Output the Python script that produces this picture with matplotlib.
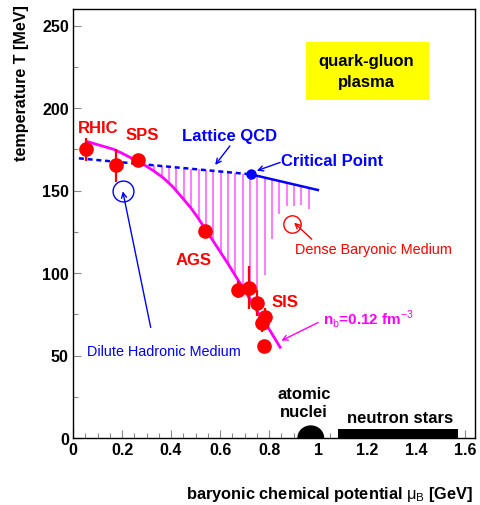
import numpy as np
import matplotlib
matplotlib.use('Agg')
import matplotlib.pyplot as plt
from matplotlib.patches import Ellipse, Rectangle

plt.rcParams['font.family'] = ['Liberation Sans', 'DejaVu Sans']
plt.rcParams['mathtext.fontset'] = 'custom'
plt.rcParams['mathtext.rm'] = 'Liberation Sans'
plt.rcParams['mathtext.bf'] = 'Liberation Sans:bold'

# chemical freeze-out points (RHIC, SPS, AGS, SIS)
mu_fo = [0.053, 0.176, 0.267, 0.539, 0.675, 0.716, 0.750, 0.770, 0.784, 0.780]
T_fo = [175.0, 165.3, 168.5, 125.5, 90.0, 91.0, 82.0, 70.0, 73.5, 56.0]
T_fo_err = [7, 10, 2, 2, 5, 13, 8, 6, 5, 0]
mu_fo_err = [0, 0, 0, 0, 0.012, 0.012, 0.022, 0.015, 0.024, 0]

# n_b = 0.12 fm^-3 freeze-out curve
curve_mu = [0.062, 0.10, 0.165, 0.20, 0.246, 0.29, 0.328, 0.37, 0.409, 0.44,
            0.478, 0.51, 0.54, 0.57, 0.60, 0.635, 0.668, 0.71, 0.75, 0.80, 0.845]
curve_T = [179.5, 177.8, 175.0, 172.6, 169.0, 165.6, 162.0, 157.5, 152.0, 146.6,
           140.0, 133.4, 126.5, 119.8, 113.0, 105.0, 97.0, 87.0, 77.0, 66.0, 55.0]

# lattice QCD phase boundary (dotted up to critical point, solid after)
lat_mu = [0.024, 0.725, 0.999]
lat_T = [169.5, 159.8, 150.3]
crit_mu, crit_T = 0.725, 159.8

# hatched region
hatch_mu = np.round(np.arange(0.272, 0.963, 0.03), 3)
edge_mu = [0.752, 0.782, 0.812, 0.842, 0.872, 0.902, 0.932, 0.962]
edge_T = [0.0, 99.0, 120.5, 135.5, 140.5, 140.5, 141.5, 139.0]

# neutron stars band and atomic nuclei blob
ns_mu = [1.083, 1.570]
ns_T = 5.5
nuc_mu, nuc_w, nuc_h = 0.97, 0.104, 14.5

# quark-gluon plasma box (mu range, T range)
qgp_mu = [0.951, 1.452]
qgp_T = [204.7, 240.0]

fig = plt.figure(figsize=(4.81, 5.06), dpi=100)
ax = fig.add_axes([73 / 481, 67 / 506, 402 / 481, 429 / 506])

red = '#ff0000'
blue = '#0000ff'
mag = '#ff00ff'

# hatches
tops = np.interp(hatch_mu, lat_mu, lat_T)
lows = np.maximum(np.interp(hatch_mu, curve_mu, curve_T),
                  np.interp(hatch_mu, edge_mu, edge_T, left=0, right=0))
keep = lows < tops
ax.vlines(hatch_mu[keep], lows[keep], tops[keep], color='#ff5cff', lw=1.15, zorder=2)

# lattice line
ax.plot(lat_mu[:2], lat_T[:2], color=blue, lw=1.8, ls=(0, (2, 1.5)), zorder=3)
ax.plot(lat_mu[1:], lat_T[1:], color=blue, lw=1.8, zorder=3)
ax.plot([crit_mu], [crit_T], 'o', color=blue, ms=6.5, zorder=5)

# freeze-out curve
ax.plot(curve_mu, curve_T, color=mag, lw=2.0, zorder=4)

# data points
ax.errorbar(mu_fo, T_fo, yerr=T_fo_err, xerr=mu_fo_err, fmt='o', color=red,
            ms=9.5, elinewidth=1.6, capsize=0, zorder=6)

# open circles
ax.plot([0.203], [149.8], 'o', mfc='none', mec=blue, mew=1.0, ms=15, zorder=5)
ax.plot([0.892], [129.5], 'o', mfc='none', mec=red, mew=1.0, ms=12.5, zorder=5)

# neutron stars, atomic nuclei, QGP box
ax.fill_between(ns_mu, 0, ns_T, color='black', lw=0, zorder=5)
ax.add_patch(Ellipse((nuc_mu, 0), nuc_w, nuc_h, color='black', zorder=5))
ax.add_patch(Rectangle((qgp_mu[0], qgp_T[0]), qgp_mu[1] - qgp_mu[0], qgp_T[1] - qgp_T[0],
                       fc='#ffff00', ec='none', zorder=1))

# labels
bold = dict(fontweight='bold', fontsize=12)
ax.text(0.103, 188, 'RHIC', color=red, ha='center', va='center', **bold)
ax.text(0.283, 184, 'SPS', color=red, ha='center', va='center', **bold)
ax.text(0.49, 108, 'AGS', color=red, ha='center', va='center', **bold)
ax.text(0.865, 83, 'SIS', color=red, ha='center', va='center', **bold)
ax.text(0.64, 183.5, 'Lattice QCD', color=blue, ha='center', va='center', **bold)
ax.text(0.85, 168.3, 'Critical Point', color=blue, ha='left', va='center', **bold)
ax.text(0.905, 114.8, 'Dense Baryonic Medium', color=red, ha='left', va='center', fontsize=10.4)
ax.text(0.056, 52.8, 'Dilute Hadronic Medium', color=blue, ha='left', va='center', fontsize=10.4)
ax.text(1.02, 72.6, r'n$_{\mathrm{b}}$=0.12 fm$^{\mathrm{-3}}$', color=mag, ha='left',
        va='center', fontweight='bold', fontsize=11)
ax.text(1.197, 222.5, 'quark-gluon\nplasma', ha='center', va='center', linespacing=1.45,
        zorder=2, **bold)
ax.text(0.943, 21.5, 'atomic\nnuclei', ha='center', va='center', linespacing=1.25, **bold)
ax.text(1.335, 12.5, 'neutron stars', ha='center', va='center', **bold)

# arrows
arr = dict(arrowstyle='->', lw=1.0, shrinkA=0, shrinkB=0, mutation_scale=9)
ax.annotate('', xy=(0.203, 149.5), xytext=(0.317, 67), arrowprops=dict(color=blue, **arr))
ax.annotate('', xy=(0.58, 165.5), xytext=(0.64, 177), arrowprops=dict(color=blue, **arr))
ax.annotate('', xy=(0.75, 162.0), xytext=(0.845, 167), arrowprops=dict(color=blue, **arr))
ax.annotate('', xy=(0.902, 130.5), xytext=(0.974, 120.5), arrowprops=dict(color=red, **arr))
ax.annotate('', xy=(0.85, 59), xytext=(1.0, 70), arrowprops=dict(color=mag, **arr))

ax.set_xlim(0, 1.64)
ax.set_ylim(0, 260)
ax.set_xticks(np.arange(0, 1.61, 0.2))
ax.set_xticklabels(['0', '0.2', '0.4', '0.6', '0.8', '1', '1.2', '1.4', '1.6'])
ax.set_xticks(np.arange(0, 1.64, 0.05), minor=True)
ax.set_yticks([0, 50, 100, 150, 200, 250])
ax.set_yticks(np.arange(0, 260, 25), minor=True)
ax.tick_params(which='both', direction='in', color='#888888', width=0.8)
ax.tick_params(which='major', length=6, labelsize=11.5, pad=3)
ax.tick_params(which='minor', length=3.5)
for lab in ax.get_xticklabels() + ax.get_yticklabels():
    lab.set_fontweight('bold')
for sp in ax.spines.values():
    sp.set_linewidth(1.0)

fig.text(22 / 481, 1 - 5 / 506, 'temperature T [MeV]', rotation=90, ha='center',
         va='top', fontweight='bold', fontsize=11.6)
fig.text(473 / 481, 11 / 506, r'baryonic chemical potential $\mathrm{\mu_B}$ [GeV]',
         ha='right', va='center', fontweight='bold', fontsize=11.8)

fig.savefig('out.png', dpi=100, facecolor='white')
